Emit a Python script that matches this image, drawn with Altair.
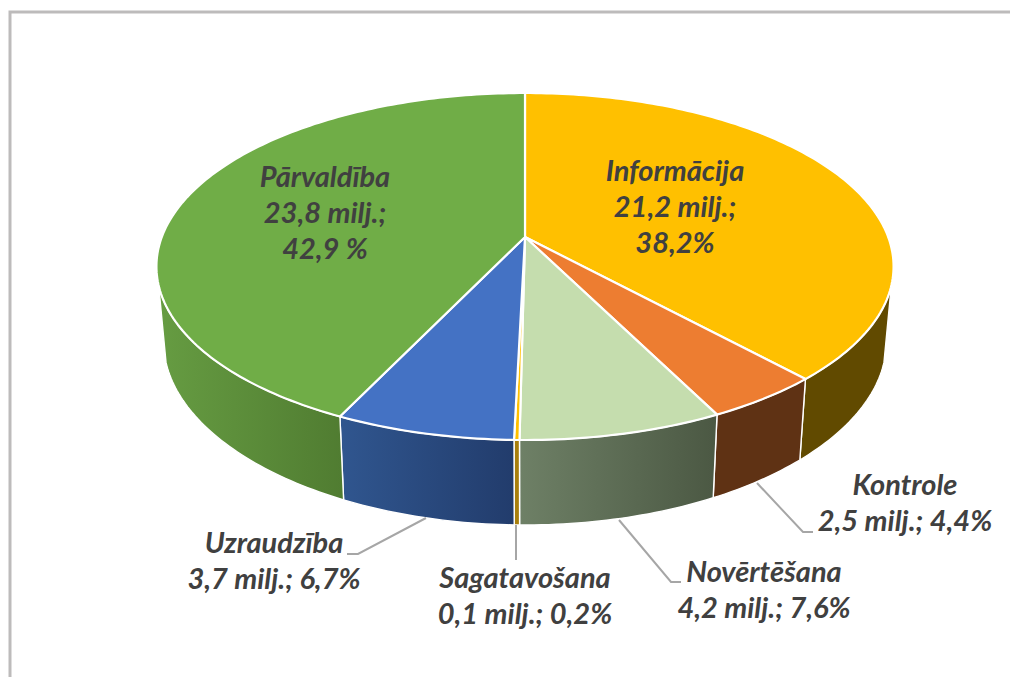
import math
import altair as alt
import pandas as pd

names = ["Informācija", "Kontrole", "Novērtēšana", "Sagatavošana", "Uzraudzība", "Pārvaldība"]
millions = ["21,2", "2,5", "4,2", "0,1", "3,7", "23,8"]
shares = [38.2, 4.4, 7.6, 0.2, 6.7, 42.9]
share_text = ["38,2%", "4,4%", "7,6%", "0,2%", "6,7%", "42,9 %"]
top_colors = ["#FFC000", "#ED7D31", "#C5DDAE", "#FFC000", "#4472C4", "#70AD47"]
wall_colors = [
    ["#614A00", "#614A00"],
    ["#5F3214", "#5F3214"],
    ["#6E8066", "#4B5843"],
    ["#A87F0C", "#A87F0C"],
    ["#30568F", "#223C6C"],
    ["#669C42", "#507C31"],
]
label_x = [675, 905, 764, 525, 274, 325]
label_y = [181, 495, 582, 588, 553, 187]
leaders = {
    "Kontrole": [(813, 532), (803, 532), (757, 483)],
    "Novērtēšana": [(681, 582), (671, 582), (619, 520)],
    "Sagatavošana": [(516, 560), (516, 525)],
    "Uzraudzība": [(347, 554), (358, 554), (426, 518)],
}
frame = [(1010, 12), (10, 12), (10, 677)]

CX, CY, A, C, P = 525, 237, 363.2, 168.5, 0.17
WALL_FROM, WALL_TO = 106, 254


def top_point(deg):
    t = math.radians(deg)
    u, v = math.sin(t), -math.cos(t)
    d = 1 - P * v
    return CX + A * u / d, CY + C * v / d, v


def low_point(deg):
    x, y, v = top_point(deg)
    return CX + (x - CX) * 0.98, y + 76 + 9 * v * v


def steps(a, b):
    n = max(2, int(abs(b - a)) + 2)
    return [a + (b - a) * i / (n - 1) for i in range(n)]


X = alt.X("x:Q", scale=alt.Scale(domain=[8, 1010], nice=False, zero=False), axis=None)
Y = alt.Y("y:Q", scale=alt.Scale(domain=[677, 8], nice=False, zero=False), axis=None)
O = alt.Order("i:Q")


def path(points, **mark):
    df = pd.DataFrame([{"x": p[0], "y": p[1], "i": i} for i, p in enumerate(points)])
    return alt.Chart(df).mark_line(interpolate="linear", **mark).encode(x=X, y=Y, order=O)


layers = []
starts = []
acc = 0.0
for s in shares:
    starts.append((acc * 3.6, (acc + s) * 3.6))
    acc += s

# side walls
for (a, b), cols in zip(starts, wall_colors):
    a2, b2 = max(a, WALL_FROM), min(b, WALL_TO)
    if a2 >= b2:
        continue
    rim = [top_point(d)[:2] for d in steps(a2, b2)]
    low = [low_point(d) for d in steps(b2, a2)]
    pts = rim + low + [rim[0]]
    fill = alt.Gradient(
        gradient="linear", x1=0, x2=1, y1=0, y2=0,
        stops=[alt.GradientStop(color=cols[0], offset=0), alt.GradientStop(color=cols[1], offset=1)],
    )
    layers.append(path(pts, fill=fill, stroke="white", strokeWidth=1.4, strokeJoin="round"))

# top face
for (a, b), col in zip(starts, top_colors):
    pts = [(CX, CY)] + [top_point(d)[:2] for d in steps(a, b)] + [(CX, CY)]
    layers.append(path(pts, fill=col, stroke="white", strokeWidth=2.2, strokeJoin="round"))

# leader lines and frame
for pts in leaders.values():
    layers.append(path(pts, stroke="#A6A6A6", strokeWidth=2))
layers.append(path(frame, stroke="#BDBBBB", strokeWidth=3))

labels = pd.DataFrame({
    "x": label_x,
    "y": label_y,
    "t": [
        f"{n}\n{m} milj.;\n{p}" if s > 20 else f"{n}\n{m} milj.; {p}"
        for n, m, p, s in zip(names, millions, share_text, shares)
    ],
})
layers.append(
    alt.Chart(labels).mark_text(
        font="Lato", fontSize=29, fontStyle="italic", fontWeight="bold",
        color="#404040", lineBreak="\n", lineHeight=36, align="center", baseline="alphabetic",
    ).encode(x=X, y=Y, text="t:N")
)

chart = (
    alt.layer(*layers)
    .properties(width=1002, height=669, padding=0, autosize=alt.AutoSizeParams(type="none"), background="white")
    .configure_view(stroke=None)
)
chart.save("out.html", embed_options={"renderer": "svg", "actions": False})
